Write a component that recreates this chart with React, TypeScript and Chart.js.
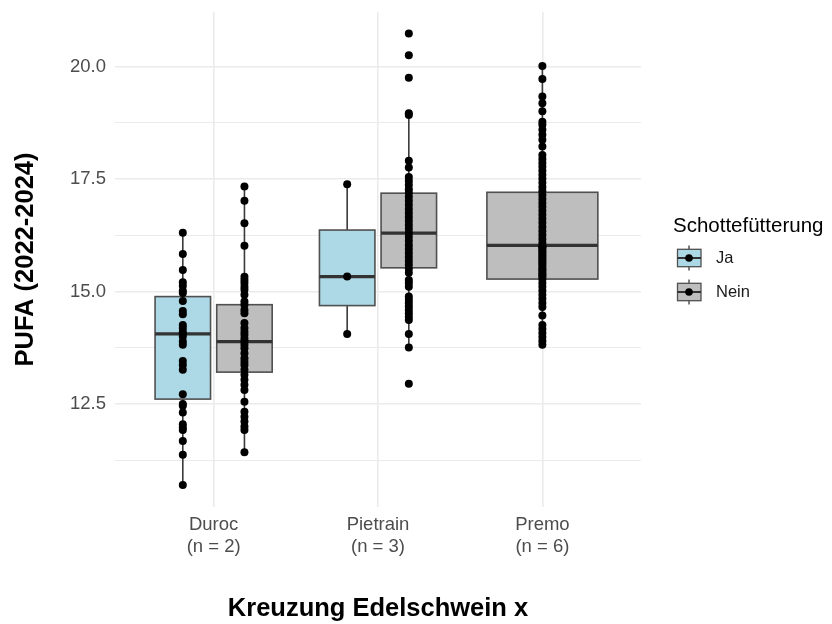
import React, { useEffect, useRef } from "react";
import { Chart, registerables } from "chart.js";

Chart.register(...registerables);

// ---------- data ----------
const categories = ["Duroc", "Pietrain", "Premo"];
const categoryCounts = ["(n = 2)", "(n = 3)", "(n = 6)"];
const groups = ["Ja", "Nein"];
const groupColors = ["#ADD8E6", "#BEBEBE"];

const xTitle = "Kreuzung Edelschwein x";
const yTitle = "PUFA (2022-2024)";
const legendTitle = "Schottefütterung";

// boxes: category index / group index
const boxCategory = [0, 0, 1, 1, 2];
const boxGroup = [0, 1, 0, 1, 1];
const whiskerLow = [10.7, 11.43, 14.06, 13.76, 13.84];
const q1 = [12.61, 13.21, 14.69, 15.53, 15.28];
const median = [14.06, 13.89, 15.335, 16.3, 16.03];
const q3 = [14.89, 14.71, 16.37, 17.19, 17.21];
const whiskerHigh = [16.32, 17.34, 17.39, 18.97, 20.02];

const durocJa = [
  16.31, 15.84, 15.48, 15.21, 15.13, 15.02, 14.97, 14.79, 14.57, 14.5, 14.26,
  14.19, 14.11, 14.06, 14.0, 13.89, 13.82, 13.46, 13.37, 13.26, 12.72, 12.5,
  12.46, 12.31, 12.05, 11.98, 11.92, 11.68, 11.37, 10.7,
];
const durocNein = [
  17.34, 17.02, 16.52, 16.02, 15.33, 15.26, 15.19, 15.11, 15.04, 14.93, 14.78,
  14.71, 14.59, 14.52, 14.3, 14.19, 14.11, 14.04, 13.96, 13.89, 13.82, 13.74,
  13.63, 13.52, 13.44, 13.37, 13.26, 13.15, 13.04, 12.93, 12.81, 12.55, 12.33,
  12.22, 12.11, 12.0, 11.92, 11.43,
];
const pietrainJa = [17.39, 15.335, 14.06];
const pietrainNein = [
  20.74, 20.26, 19.76, 18.97, 18.93, 17.91, 17.76, 17.55, 17.46, 17.37, 17.28,
  17.2, 17.11, 17.02, 16.93, 16.84, 16.75, 16.66, 16.57, 16.48, 16.4, 16.31,
  16.22, 16.13, 16.04, 15.95, 15.86, 15.77, 15.68, 15.6, 15.51, 15.42, 15.26,
  15.19, 15.11, 14.89, 14.82, 14.75, 14.67, 14.59, 14.52, 14.44, 14.37, 14.06,
  13.76, 12.95,
];
const premoNein = [
  20.02, 19.73, 19.34, 19.19, 19.01, 18.78, 18.71, 18.6, 18.49, 18.38, 18.23,
  18.04, 17.95, 17.86, 17.78, 17.69, 17.6, 17.51, 17.42, 17.33, 17.24, 17.15,
  17.06, 16.97, 16.89, 16.8, 16.71, 16.62, 16.53, 16.44, 16.35, 16.26, 16.17,
  16.08, 15.99, 15.91, 15.82, 15.73, 15.64, 15.55, 15.46, 15.37, 15.28, 15.19,
  15.11, 15.02, 14.93, 14.84, 14.75, 14.66, 14.47, 14.26, 14.17, 14.08, 13.99,
  13.9, 13.82, 16.01, 15.96, 15.87, 15.78, 15.69, 15.6, 15.5, 15.41, 15.33,
];
const boxPoints = [durocJa, durocNein, pietrainJa, pietrainNein, premoNein];

const yMajorTicks = [12.5, 15.0, 17.5, 20.0];
const yMinorTicks = [11.25, 13.75, 16.25, 18.75];

// ---------- layout helpers ----------
const FONT = "'Liberation Sans', Arial, Helvetica, sans-serif";
const DODGE = 0.75;
const BOX_WIDTH = 0.675;

function boxGeometry(i: number) {
  const cat = boxCategory[i];
  const members: number[] = [];
  boxCategory.forEach((c, j) => {
    if (c === cat) members.push(j);
  });
  const n = members.length;
  const k = members.indexOf(i);
  const slot = DODGE / n;
  const center = cat + 1 - DODGE / 2 + slot * (k + 0.5);
  const width = BOX_WIDTH / n;
  return { center, width };
}

const boxPlugin = {
  id: "boxes",
  beforeDatasetsDraw(chart: any) {
    const { ctx, chartArea, scales } = chart;
    const xs = scales.x;
    const ys = scales.y;
    ctx.save();
    ctx.beginPath();
    ctx.rect(chartArea.left, chartArea.top, chartArea.right - chartArea.left, chartArea.bottom - chartArea.top);
    ctx.clip();
    for (let i = 0; i < boxCategory.length; i++) {
      const { center, width } = boxGeometry(i);
      const cx = xs.getPixelForValue(center);
      const xl = xs.getPixelForValue(center - width / 2);
      const xr = xs.getPixelForValue(center + width / 2);
      const yLo = ys.getPixelForValue(whiskerLow[i]);
      const yQ1 = ys.getPixelForValue(q1[i]);
      const yMed = ys.getPixelForValue(median[i]);
      const yQ3 = ys.getPixelForValue(q3[i]);
      const yHi = ys.getPixelForValue(whiskerHigh[i]);
      // whiskers
      ctx.strokeStyle = "#3a3a3a";
      ctx.lineWidth = 1.6;
      ctx.beginPath();
      ctx.moveTo(cx, yQ3);
      ctx.lineTo(cx, yHi);
      ctx.moveTo(cx, yQ1);
      ctx.lineTo(cx, yLo);
      ctx.stroke();
      // box
      ctx.fillStyle = groupColors[boxGroup[i]];
      ctx.fillRect(xl, yQ3, xr - xl, yQ1 - yQ3);
      ctx.strokeStyle = "#505050";
      ctx.lineWidth = 1.6;
      ctx.strokeRect(xl, yQ3, xr - xl, yQ1 - yQ3);
      // median
      ctx.strokeStyle = "#333333";
      ctx.lineWidth = 3.2;
      ctx.beginPath();
      ctx.moveTo(xl, yMed);
      ctx.lineTo(xr, yMed);
      ctx.stroke();
    }
    ctx.restore();
  },
};

const legendPlugin = {
  id: "customLegend",
  afterDraw(chart: any) {
    const { ctx } = chart;
    ctx.save();
    ctx.fillStyle = "#000000";
    ctx.font = `20.5px ${FONT}`;
    ctx.textAlign = "left";
    ctx.textBaseline = "alphabetic";
    ctx.fillText(legendTitle, 673, 231.5);
    const kx = 689;
    groups.forEach((g, i) => {
      const cy = 258 + i * 34;
      const left = 677.5;
      const right = 701;
      const half = 8.7;
      ctx.strokeStyle = "#3a3a3a";
      ctx.lineWidth = 1.3;
      ctx.beginPath();
      ctx.moveTo(kx, cy - 12.5);
      ctx.lineTo(kx, cy - half);
      ctx.moveTo(kx, cy + half);
      ctx.lineTo(kx, cy + 12.5);
      ctx.stroke();
      ctx.fillStyle = groupColors[i];
      ctx.fillRect(left, cy - half, right - left, half * 2);
      ctx.strokeStyle = "#505050";
      ctx.lineWidth = 1.3;
      ctx.strokeRect(left, cy - half, right - left, half * 2);
      ctx.strokeStyle = "#333333";
      ctx.lineWidth = 2;
      ctx.beginPath();
      ctx.moveTo(left, cy);
      ctx.lineTo(right, cy);
      ctx.stroke();
      ctx.fillStyle = "#000000";
      ctx.beginPath();
      ctx.arc(kx, cy, 3.8, 0, Math.PI * 2);
      ctx.fill();
      ctx.fillStyle = "#1a1a1a";
      ctx.font = `16.5px ${FONT}`;
      ctx.textBaseline = "middle";
      ctx.fillText(g, 716, cy + 0.5);
    });
    ctx.restore();
  },
};

export default function App() {
  const canvasRef = useRef<HTMLCanvasElement | null>(null);

  useEffect(() => {
    if (!canvasRef.current) return;
    const datasets = boxPoints.map((vals, i) => {
      const { center } = boxGeometry(i);
      return {
        label: `${categories[boxCategory[i]]} ${groups[boxGroup[i]]}`,
        data: vals.map((v) => ({ x: center, y: v })),
        pointRadius: 4,
        pointBorderWidth: 0,
        pointBackgroundColor: "#000000",
        backgroundColor: "#000000",
        showLine: false,
      };
    });

    const chart = new Chart(canvasRef.current, {
      type: "scatter",
      data: { datasets },
      options: {
        animation: false,
        responsive: false,
        devicePixelRatio: 1,
        layout: { padding: { left: 0, top: 12, right: 191, bottom: 0 } },
        plugins: {
          legend: { display: false },
          tooltip: { enabled: false },
        },
        scales: {
          x: {
            type: "linear",
            min: 0.4,
            max: 3.6,
            afterBuildTicks: (scale: any) => {
              scale.ticks = categories.map((_, i) => ({ value: i + 1 }));
            },
            afterFit: (scale: any) => {
              scale.height = 117;
              scale.paddingLeft = 0;
              scale.paddingRight = 0;
            },
            ticks: {
              padding: 7,
              color: "#4D4D4D",
              font: { family: FONT, size: 18.5 },
              callback: (value: any) => {
                const i = Math.round(Number(value)) - 1;
                return [categories[i], categoryCounts[i]];
              },
              maxRotation: 0,
            },
            grid: {
              color: "#EBEBEB",
              lineWidth: 1.6,
              drawTicks: false,
            },
            border: { display: false },
            title: {
              display: true,
              text: xTitle,
              color: "#000000",
              font: { family: FONT, size: 25.5, weight: "bold" },
              padding: { top: 0, bottom: 0 },
            },
          },
          y: {
            type: "linear",
            min: 10.21,
            max: 21.22,
            afterBuildTicks: (scale: any) => {
              scale.ticks = [...yMinorTicks, ...yMajorTicks]
                .sort((a, b) => a - b)
                .map((v) => ({ value: v }));
            },
            afterFit: (scale: any) => {
              scale.width = 115;
              scale.paddingTop = 0;
              scale.paddingBottom = 0;
            },
            ticks: {
              padding: 9,
              color: "#4D4D4D",
              font: { family: FONT, size: 18.5 },
              autoSkip: false,
              callback: (value: any) => {
                const v = Number(value);
                return yMajorTicks.some((m) => Math.abs(m - v) < 1e-6) ? v.toFixed(1) : "";
              },
            },
            grid: {
              color: "#EBEBEB",
              lineWidth: (c: any) => {
                const v = c.tick ? c.tick.value : 0;
                return yMajorTicks.some((m) => Math.abs(m - v) < 1e-6) ? 1.6 : 1.1;
              },
              drawTicks: false,
            },
            border: { display: false },
            title: {
              display: true,
              text: yTitle,
              color: "#000000",
              font: { family: FONT, size: 25.5, weight: "bold" },
              padding: { top: 11, bottom: 0 },
            },
          },
        },
      } as any,
      plugins: [boxPlugin, legendPlugin],
    });
    return () => chart.destroy();
  }, []);

  return (
    <div style={{ position: "fixed", left: 0, top: 0, width: 832, height: 624, background: "#ffffff" }}>
      <canvas ref={canvasRef} width={832} height={624} style={{ display: "block" }} />
    </div>
  );
}
